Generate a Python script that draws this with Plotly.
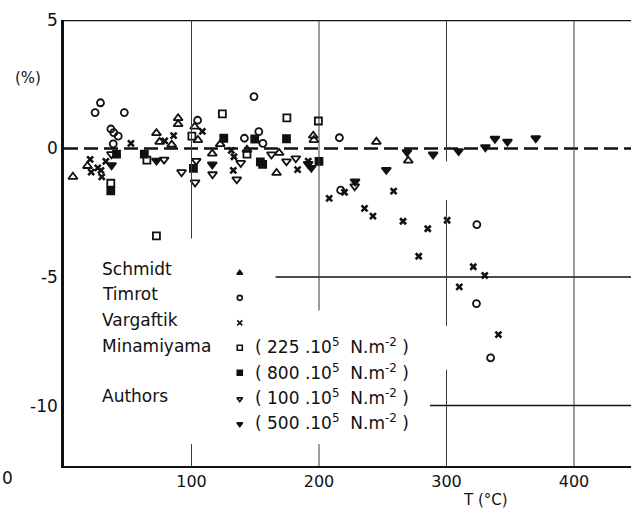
import plotly.graph_objects as go

# ---------------- data (T in °C, deviation in %) ----------------
schmidt_T = [7, 18.4, 72.5, 75, 84.5, 89.5, 89.5, 102.5, 105, 116.3, 122.5, 143.5, 166.7, 168.7, 195.5, 196, 245, 270]
schmidt_d = [-1.1, -0.68, 0.6, 0.26, 0.15, 1.18, 0.95, 0.85, 0.33, -0.2, 0.17, -0.05, -0.95, -0.17, 0.5, 0.33, 0.26, -0.47]

timrot_T = [24.4, 28.6, 47.3, 36.8, 39, 42.5, 38.6, 104.8, 141.5, 149, 152.8, 156, 216, 217, 323.8, 323.5, 334.6]
timrot_d = [1.4, 1.78, 1.4, 0.76, 0.62, 0.48, 0.18, 1.1, 0.4, 2.02, 0.66, 0.2, 0.42, -1.62, -2.96, -6.03, -8.14]

varg_T = [20.5, 21.3, 26.5, 29, 29.6, 32.8, 52.5, 79, 86, 108.5, 131.2, 133.3, 132.8, 183.2, 191.6,
          208, 220, 235.7, 242.3, 258.5, 265.9, 278.2, 285.3, 300.5, 310, 321, 330, 340.7]
varg_d = [-0.42, -0.92, -0.75, -0.85, -1.1, -0.5, 0.2, 0.3, 0.5, 0.67, -0.07, -0.32, -0.85, -0.82, -0.49,
          -1.94, -1.7, -2.33, -2.63, -1.66, -2.83, -4.19, -3.12, -2.79, -5.38, -4.6, -4.94, -7.24]

mina225_T = [36.7, 65, 72.5, 100.3, 124.2, 143.5, 174.8, 199.5]
mina225_d = [-1.35, -0.45, -3.4, 0.48, 1.35, -0.22, 1.19, 1.07]

mina800_T = [36.7, 41.2, 63, 101.5, 125.3, 149.6, 154, 155.8, 174.5, 200]
mina800_d = [-1.65, -0.22, -0.22, -0.77, 0.4, 0.37, -0.52, -0.62, 0.38, -0.5]

auth100_T = [37.2, 78.5, 92.2, 103.7, 102.8, 116.5, 138.6, 135.5, 162.7, 174.5, 181.8, 228]
auth100_d = [-0.22, -0.43, -0.92, -0.48, -1.32, -1.0, -0.56, -1.2, -0.23, -0.5, -0.38, -1.47]

auth500_T = [37.3, 72.5, 116.3, 191.5, 194, 228.3, 252.8, 269, 289.5, 309.5, 330.5, 338, 347.8, 370]
auth500_d = [-0.65, -0.47, -0.62, -0.6, -0.75, -1.28, -0.83, -0.14, -0.23, -0.1, 0.05, 0.38, 0.27, 0.4]

x_ticks = [100, 200, 300, 400]
y_ticks = [5, 0, -5, -10]
legend_names = ["Schmidt", "Timrot", "Vargaftik", "Minamiyama", "Authors"]
legend_press = ["225", "800", "100", "500"]

# ---------------- styling ----------------
INK = "#111111"
GRID = "#3a3a3a"
X_MAX = 444.7
Y_MIN, Y_MAX = -12.35, 5

series = [
    (schmidt_T, schmidt_d, "triangle-up-open", 8, 1.8),
    (timrot_T, timrot_d, "circle-open", 7, 1.8),
    (varg_T, varg_d, "x-thin-open", 6, 2.6),
    (mina225_T, mina225_d, "square-open", 7, 1.8),
    (mina800_T, mina800_d, "square", 7, 1.8),
    (auth100_T, auth100_d, "triangle-down-open", 8, 1.8),
    (auth500_T, auth500_d, "triangle-down", 8, 1.8),
]

fig = go.Figure()
for xs, ys, sym, sz, lw in series:
    fig.add_trace(go.Scatter(
        x=xs, y=ys, mode="markers", showlegend=False, hoverinfo="skip",
        marker=dict(symbol=sym, size=sz, color=INK, line=dict(color=INK, width=lw)),
    ))

# legend markers on an overlay axis (fractions of plot area)
leg_sym = ["triangle-up", "circle-open", "x-thin-open", "square-open", "square", "triangle-down-open", "triangle-down"]
leg_y = [0.433, 0.377, 0.321, 0.265, 0.209, 0.150, 0.094]
for sym, yy in zip(leg_sym, leg_y):
    fig.add_trace(go.Scatter(
        x=[0.310], y=[yy], xaxis="x2", yaxis="y2", mode="markers", showlegend=False,
        hoverinfo="skip",
        marker=dict(symbol=sym, size=5, color=INK, line=dict(color=INK, width=1.6)),
    ))

shapes = []
shapes.append(dict(type="line", xref="x", yref="y", x0=0, x1=X_MAX, y0=0, y1=0,
                   line=dict(color=INK, width=2.5, dash="14px,6px")))
shapes.append(dict(type="line", xref="x", yref="y", x0=0, x1=X_MAX, y0=Y_MAX, y1=Y_MAX,
                   line=dict(color=INK, width=2.5)))
shapes.append(dict(type="line", xref="x", yref="y", x0=166, x1=X_MAX, y0=-5, y1=-5,
                   line=dict(color=INK, width=1.5)))
shapes.append(dict(type="line", xref="x", yref="y", x0=287, x1=X_MAX, y0=-10, y1=-10,
                   line=dict(color=INK, width=1.5)))
vsegs = [(100, 5, -3.5), (100, -11.5, Y_MIN),
         (200, 5, -6.3), (200, -11.5, Y_MIN),
         (300, 5, -0.5), (300, -2.0, -6.9), (300, -8.6, Y_MIN),
         (400, 5, Y_MIN)]
for xv, y0, y1 in vsegs:
    shapes.append(dict(type="line", xref="x", yref="y", x0=xv, x1=xv, y0=y0, y1=y1,
                       line=dict(color=GRID, width=1)))

FONT = "DejaVu Sans"
annotations = []
def ann(text, x, y, xanchor="left", size=17):
    annotations.append(dict(text=text, x=x, y=y, xref="paper", yref="paper",
                            xanchor=xanchor, yanchor="middle", showarrow=False,
                            font=dict(family=FONT, size=size, color=INK)))

name_y = [0.442, 0.386, 0.327, 0.269, 0.157]
for nm, yy in zip(legend_names, name_y):
    ann(nm, 0.0635, yy)
press_y = [0.269, 0.211, 0.155, 0.099]
for p, yy in zip(legend_press, press_y):
    ann("( " + p + " .10<sup>5</sup>  N.m<sup>-2</sup> )", 0.333, yy)

ann("(%)", -0.0635, 0.87, xanchor="center", size=15)
ann("T (°C)", 0.744, -0.076, xanchor="center", size=15)
ann("0", -0.0988, -0.027, xanchor="center", size=17)

fig.update_layout(
    width=631, height=512,
    margin=dict(l=64, r=0, t=20, b=46),
    paper_bgcolor="white", plot_bgcolor="white",
    shapes=shapes, annotations=annotations,
    showlegend=False,
    xaxis=dict(range=[0, X_MAX], showgrid=False, zeroline=False,
               showline=True, linecolor=INK, linewidth=2,
               tickvals=x_ticks, ticktext=[str(v) for v in x_ticks], ticks="",
               tickfont=dict(family=FONT, size=16, color=INK)),
    yaxis=dict(range=[Y_MIN, Y_MAX], showgrid=False, zeroline=False,
               showline=True, linecolor=INK, linewidth=2.5,
               tickvals=y_ticks, ticktext=[str(v) for v in y_ticks], ticks="",
               tickfont=dict(family=FONT, size=17, color=INK)),
    xaxis2=dict(overlaying="x", range=[0, 1], visible=False),
    yaxis2=dict(overlaying="y", range=[0, 1], visible=False),
)

fig.write_html("out.html", config={"displayModeBar": False},
               post_script=["document.body.style.margin='0px';"])
